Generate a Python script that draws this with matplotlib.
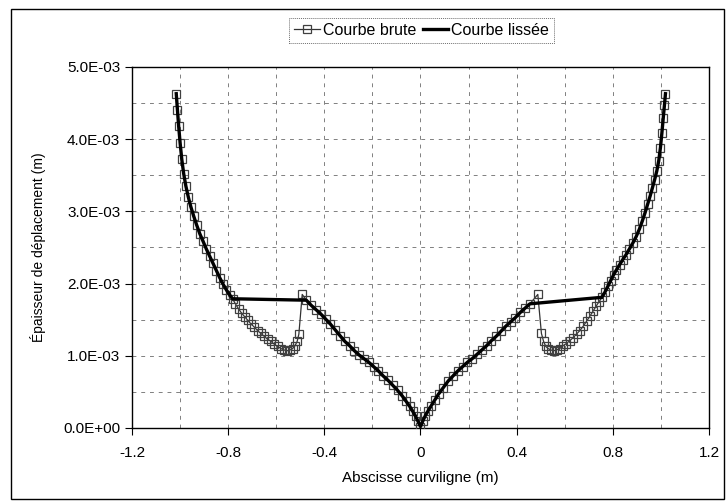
import matplotlib
matplotlib.use("Agg")
import matplotlib.pyplot as plt
from matplotlib.ticker import MultipleLocator, FuncFormatter
from matplotlib.patches import Rectangle
import numpy as np

plt.rcParams['font.family'] = ['Liberation Sans', 'DejaVu Sans']

# epaisseur de deplacement, en mm (converti en m plus bas)
# branche exterieure gauche
g_ext_x = [-1.016, -1.011, -1.006, -1.000, -0.993, -0.985, -0.976, -0.966, -0.955,
           -0.943, -0.931, -0.918, -0.905, -0.891, -0.877, -0.863, -0.849, -0.835,
           -0.821, -0.807, -0.793, -0.782]
g_ext_y = [4.63, 4.40, 4.18, 3.95, 3.72, 3.52, 3.35, 3.20, 3.06,
           2.93, 2.81, 2.69, 2.59, 2.48, 2.38, 2.28, 2.18, 2.08,
           1.99, 1.91, 1.84, 1.79]

# creux gauche (courbe brute seulement)
g_creux_x = [-0.770, -0.757, -0.744, -0.731, -0.718, -0.705, -0.692, -0.678, -0.664,
             -0.650, -0.636, -0.622, -0.608, -0.594, -0.580, -0.567, -0.555, -0.543,
             -0.532, -0.522, -0.513, -0.506, -0.492]
g_creux_y = [1.72, 1.65, 1.59, 1.54, 1.49, 1.44, 1.40, 1.35, 1.31,
             1.27, 1.23, 1.20, 1.16, 1.13, 1.10, 1.08, 1.07, 1.08,
             1.10, 1.14, 1.20, 1.30, 1.85]

# partie centrale
centre_x = [-0.475, -0.455, -0.435, -0.415, -0.395, -0.375, -0.355, -0.335, -0.315,
            -0.295, -0.275, -0.255, -0.235, -0.215, -0.195, -0.175, -0.155, -0.135,
            -0.115, -0.095, -0.075, -0.060, -0.045, -0.032, -0.020, -0.010, 0.000,
            0.010, 0.020, 0.032, 0.045, 0.060, 0.075, 0.095, 0.115, 0.135,
            0.155, 0.175, 0.195, 0.215, 0.235, 0.255, 0.275, 0.295, 0.315,
            0.335, 0.355, 0.375, 0.395, 0.415, 0.435, 0.455]
centre_y = [1.77, 1.70, 1.64, 1.58, 1.51, 1.44, 1.36, 1.28, 1.20,
            1.14, 1.07, 1.01, 0.96, 0.91, 0.85, 0.79, 0.72, 0.66,
            0.59, 0.52, 0.44, 0.37, 0.30, 0.23, 0.16, 0.09, 0.02,
            0.10, 0.17, 0.24, 0.31, 0.39, 0.47, 0.56, 0.65, 0.72,
            0.79, 0.85, 0.91, 0.96, 1.02, 1.08, 1.14, 1.21, 1.27,
            1.34, 1.41, 1.47, 1.53, 1.60, 1.66, 1.72]

# creux droit (courbe brute seulement)
d_creux_x = [0.488, 0.503, 0.512, 0.521, 0.531, 0.542, 0.554, 0.566, 0.579,
             0.593, 0.607, 0.621, 0.635, 0.649, 0.663, 0.677, 0.691, 0.705,
             0.718, 0.731, 0.743]
d_creux_y = [1.85, 1.31, 1.20, 1.13, 1.10, 1.08, 1.07, 1.08, 1.10,
             1.14, 1.17, 1.21, 1.25, 1.30, 1.35, 1.41, 1.48, 1.55,
             1.62, 1.69, 1.75]

# branche exterieure droite
d_ext_x = [0.755, 0.767, 0.779, 0.791, 0.803, 0.815, 0.828, 0.841, 0.855,
           0.869, 0.883, 0.897, 0.910, 0.922, 0.934, 0.945, 0.955, 0.965,
           0.974, 0.983, 0.991, 0.998, 1.004, 1.010, 1.015, 1.019]
d_ext_y = [1.81, 1.88, 1.96, 2.04, 2.12, 2.19, 2.26, 2.33, 2.40,
           2.48, 2.56, 2.65, 2.75, 2.86, 2.98, 3.10, 3.21, 3.33,
           3.44, 3.56, 3.70, 3.88, 4.08, 4.30, 4.48, 4.63]

brute_x = np.concatenate([g_ext_x, g_creux_x, centre_x, d_creux_x, d_ext_x])
brute_y = np.concatenate([g_ext_y, g_creux_y, centre_y, d_creux_y, d_ext_y]) * 1e-3
lisse_x = np.concatenate([g_ext_x, centre_x, d_ext_x])
lisse_y = np.concatenate([g_ext_y, centre_y, d_ext_y]) * 1e-3

fig = plt.figure(figsize=(7.27, 5.04), dpi=100)
ax = fig.add_axes([0.1816, 0.1508, 0.7936, 0.7163])

# cadre du graphique
fig.patches.append(Rectangle((11 / 727, 5 / 504), 713 / 727, 490 / 504,
                             transform=fig.transFigure, fill=False,
                             edgecolor='black', linewidth=1.0))

ax.plot(brute_x, brute_y, color='0.2', linewidth=0.9, marker='s', markersize=5.5,
        markerfacecolor='none', markeredgecolor='0.25', markeredgewidth=0.9,
        label='Courbe brute', zorder=3)
ax.plot(lisse_x, lisse_y, color='black', linewidth=2.4, label='Courbe lissée', zorder=4)

ax.set_xlim(-1.2, 1.2)
ax.set_ylim(0, 5e-3)
ax.xaxis.set_major_locator(MultipleLocator(0.4))
ax.xaxis.set_minor_locator(MultipleLocator(0.2))
ax.yaxis.set_major_locator(MultipleLocator(1e-3))
ax.yaxis.set_minor_locator(MultipleLocator(0.5e-3))
ax.xaxis.set_major_formatter(FuncFormatter(lambda v, p: f"{np.round(v, 2):g}"))
ax.yaxis.set_major_formatter(FuncFormatter(lambda v, p: f"{v:.1E}"))

ax.grid(True, which='both', color='0.5', linestyle=(0, (4, 5)), linewidth=0.7)
ax.tick_params(which='major', direction='out', length=5, width=0.8, labelsize=11,
               colors='black')
ax.tick_params(axis='x', which='major', pad=8)
ax.tick_params(which='minor', length=0)
for s in ax.spines.values():
    s.set_linewidth(1.0)
    s.set_color('black')

ax.set_xlabel('Abscisse curviligne (m)', fontsize=11, labelpad=8)
ax.set_ylabel('Épaisseur de déplacement (m)', fontsize=10, labelpad=12)

leg = fig.legend(loc='center', bbox_to_anchor=(0.58, 0.9395), ncol=2, fontsize=11.5,
                 frameon=True, fancybox=False, handlelength=1.6, handletextpad=0.2,
                 columnspacing=0.4, borderpad=0.3, borderaxespad=0)
leg.get_frame().set_edgecolor('0.3')
leg.get_frame().set_linewidth(0.7)
leg.get_frame().set_linestyle((0, (1, 1)))

fig.savefig('out.png', dpi=100)
